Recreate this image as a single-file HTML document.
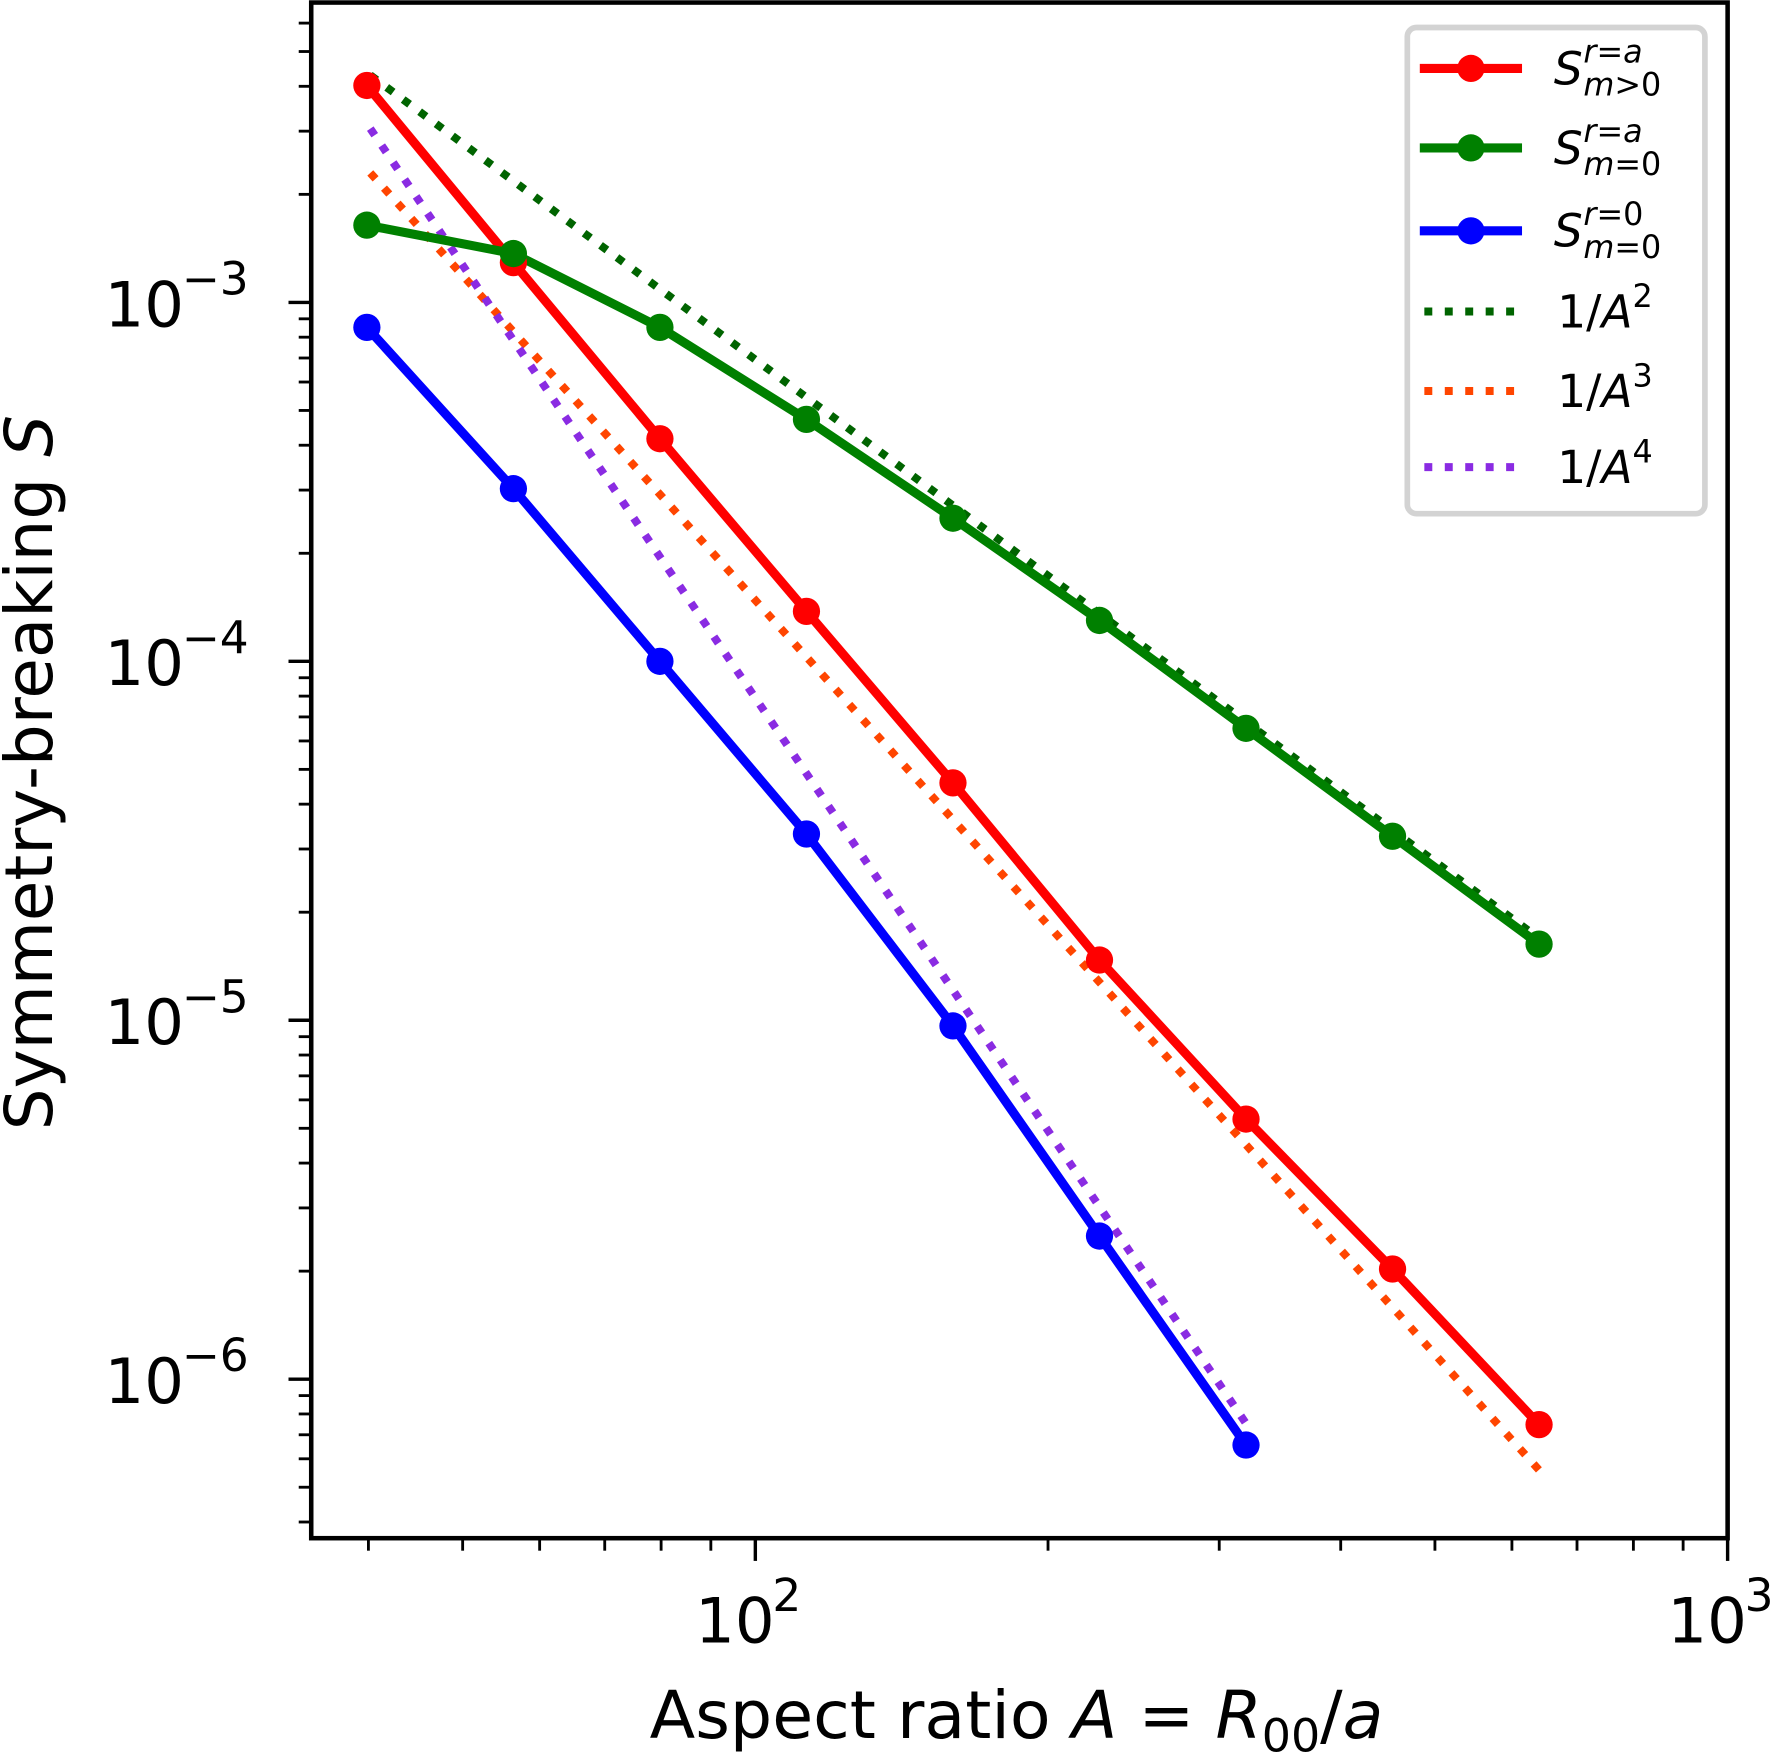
<!DOCTYPE html>
<html><head><meta charset="utf-8"><style>
html,body{margin:0;padding:0;background:#fff}
svg{display:block}
text{font-family:"DejaVu Sans","Liberation Sans",sans-serif;fill:#000}
</style></head><body>
<svg width="1781" height="1752" viewBox="0 0 1568 1542" xmlns="http://www.w3.org/2000/svg">
<rect width="1568" height="1542" fill="#fff"/>
<g stroke="#000" stroke-width="3">
<line x1="254" y1="266" x2="274" y2="266"/>
<line x1="254" y1="582" x2="274" y2="582"/>
<line x1="254" y1="898" x2="274" y2="898"/>
<line x1="254" y1="1214" x2="274" y2="1214"/>
</g>
<g stroke="#000" stroke-width="2.5" id="yminor"></g>
<g stroke="#000" stroke-width="2.5" id="xminor"></g>
<g stroke="#000" stroke-width="3">
<line x1="665" y1="1354" x2="665" y2="1374"/>
<line x1="1521" y1="1354" x2="1521" y2="1374"/>
</g>
<g font-size="55">
<text x="92" y="287">10</text><text x="160" y="259" font-size="40">−3</text>
<text x="92" y="603">10</text><text x="160" y="575" font-size="40">−4</text>
<text x="92" y="919">10</text><text x="160" y="891" font-size="40">−5</text>
<text x="92" y="1235">10</text><text x="160" y="1207" font-size="40">−6</text>
<text x="612" y="1446">10</text><text x="680" y="1418" font-size="40">2</text>
<text x="1468" y="1446">10</text><text x="1536" y="1418" font-size="40">3</text>
</g>
<text x="572" y="1530" font-size="58" textLength="646" lengthAdjust="spacingAndGlyphs">Aspect ratio <tspan font-style="italic">A</tspan> = <tspan font-style="italic">R</tspan><tspan font-size="40" dy="12">00</tspan><tspan dy="-12">/</tspan><tspan font-style="italic">a</tspan></text>
<text transform="translate(46,680) rotate(-90)" text-anchor="middle" font-size="58">Symmetry-breaking <tspan font-style="italic">S</tspan></text>

<g fill="none" stroke-width="7" stroke-dasharray="7 11">
<line x1="326" y1="66" x2="1355" y2="826" stroke="#006400"/>
<line x1="326" y1="152" x2="1355" y2="1294" stroke="#ff4500"/>
<line x1="326" y1="113" x2="1097" y2="1253" stroke="#8a2be2"/>
</g>
<g fill="none" stroke-width="8" stroke-linejoin="round">
<polyline stroke="#ff0000" points="323,75 452,231 581,386 710,538 839,689 968,845 1097,985 1226,1117 1355,1254"/>
<polyline stroke="#008000" points="323,198 452,223 581,288 710,369 839,456 968,546 1097,641 1226,736 1355,831"/>
<polyline stroke="#0000ff" points="323,288 452,430 581,582 710,734 839,903 968,1088 1097,1272"/>
</g>
<g fill="#ff0000"><circle cx="323" cy="75" r="12"/><circle cx="452" cy="231" r="12"/><circle cx="581" cy="386" r="12"/><circle cx="710" cy="538" r="12"/><circle cx="839" cy="689" r="12"/><circle cx="968" cy="845" r="12"/><circle cx="1097" cy="985" r="12"/><circle cx="1226" cy="1117" r="12"/><circle cx="1355" cy="1254" r="12"/></g>
<g fill="#008000"><circle cx="323" cy="198" r="12"/><circle cx="452" cy="223" r="12"/><circle cx="581" cy="288" r="12"/><circle cx="710" cy="369" r="12"/><circle cx="839" cy="456" r="12"/><circle cx="968" cy="546" r="12"/><circle cx="1097" cy="641" r="12"/><circle cx="1226" cy="736" r="12"/><circle cx="1355" cy="831" r="12"/></g>
<g fill="#0000ff"><circle cx="323" cy="288" r="12"/><circle cx="452" cy="430" r="12"/><circle cx="581" cy="582" r="12"/><circle cx="710" cy="734" r="12"/><circle cx="839" cy="903" r="12"/><circle cx="968" cy="1088" r="12"/><circle cx="1097" cy="1272" r="12"/></g>

<rect x="274" y="2" width="1247" height="1352" fill="none" stroke="#000" stroke-width="4"/>

<rect x="1239" y="24" width="262" height="428" rx="8" fill="#fff" fill-opacity="0.85" stroke="#d3d3d3" stroke-width="5"/>
<g stroke-width="8">
<line x1="1250" y1="60" x2="1340" y2="60" stroke="#ff0000"/>
<line x1="1250" y1="130" x2="1340" y2="130" stroke="#008000"/>
<line x1="1250" y1="203" x2="1340" y2="203" stroke="#0000ff"/>
</g>
<g stroke-width="7">
<line x1="1254" y1="274" x2="1340" y2="274" stroke="#006400" stroke-dasharray="7 11"/>
<line x1="1254" y1="344" x2="1340" y2="344" stroke="#ff4500" stroke-dasharray="7 11"/>
<line x1="1254" y1="411" x2="1340" y2="411" stroke="#8a2be2" stroke-dasharray="7 11"/>
</g>
<circle cx="1295" cy="60" r="12" fill="#ff0000"/>
<circle cx="1295" cy="130" r="12" fill="#008000"/>
<circle cx="1295" cy="203" r="12" fill="#0000ff"/>
<g font-size="40">
<text x="1368" y="74" font-style="italic">S</text><text x="1394" y="55" font-size="28"><tspan font-style="italic">r</tspan>=<tspan font-style="italic">a</tspan></text><text x="1394" y="84" font-size="28"><tspan font-style="italic">m</tspan>&gt;0</text>
<text x="1368" y="144" font-style="italic">S</text><text x="1394" y="125" font-size="28"><tspan font-style="italic">r</tspan>=<tspan font-style="italic">a</tspan></text><text x="1394" y="154" font-size="28"><tspan font-style="italic">m</tspan>=0</text>
<text x="1368" y="217" font-style="italic">S</text><text x="1394" y="198" font-size="28"><tspan font-style="italic">r</tspan>=0</text><text x="1394" y="227" font-size="28"><tspan font-style="italic">m</tspan>=0</text>
<text x="1371" y="288">1/<tspan font-style="italic">A</tspan><tspan font-size="28" dy="-18">2</tspan></text>
<text x="1371" y="358">1/<tspan font-style="italic">A</tspan><tspan font-size="28" dy="-18">3</tspan></text>
<text x="1371" y="425">1/<tspan font-style="italic">A</tspan><tspan font-size="28" dy="-18">4</tspan></text>
</g>
<script>
(function(){
var ns="http://www.w3.org/2000/svg";
var ym=document.getElementById("yminor"),xm=document.getElementById("xminor");
for(var d=-7;d<=-3;d++){for(var k=2;k<=9;k++){var y=266-((d+Math.log10(k))+3)*316;
if(y<2||y>1354)continue;var l=document.createElementNS(ns,"line");
l.setAttribute("x1",263);l.setAttribute("x2",274);l.setAttribute("y1",y);l.setAttribute("y2",y);ym.appendChild(l);}}
for(var d=1;d<=2;d++){for(var k=2;k<=9;k++){var x=665+((d+Math.log10(k))-2)*856;
if(x<274||x>1521)continue;var l=document.createElementNS(ns,"line");
l.setAttribute("y1",1354);l.setAttribute("y2",1365);l.setAttribute("x1",x);l.setAttribute("x2",x);xm.appendChild(l);}}
})();
</script>
</svg>
</body></html>
